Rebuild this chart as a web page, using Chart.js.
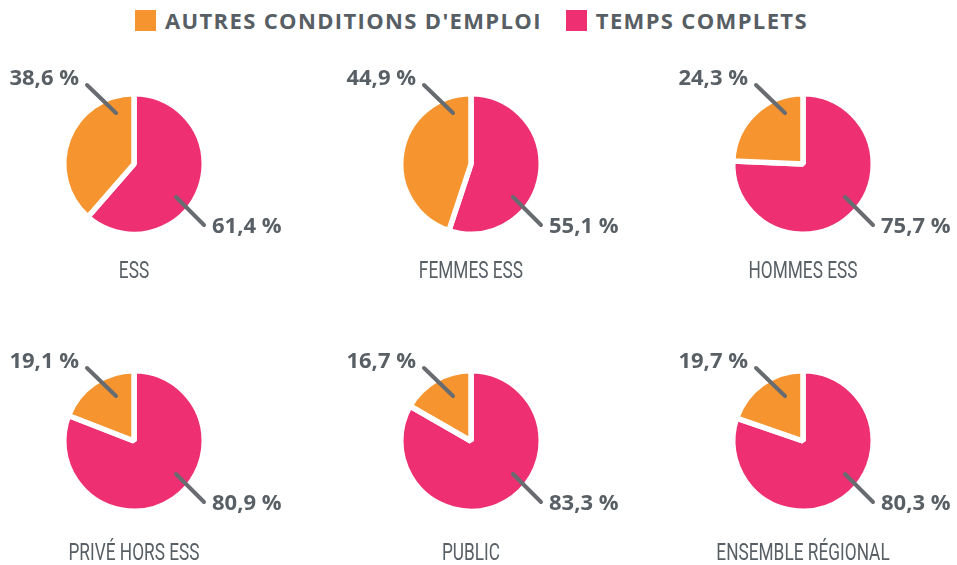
<!DOCTYPE html>
<html lang="fr">
<head>
<meta charset="utf-8">
<title>Temps complets</title>
<script src="https://cdn.jsdelivr.net/npm/chart.js@4.4.1/dist/chart.umd.min.js"></script>
<style>
  html, body { margin: 0; padding: 0; background: #fff; }
  body { position: relative; width: 957px; height: 565px; overflow: hidden; }
  #legende { position: absolute; left: 135px; top: 5px; display: flex; align-items: center; height: 30px;
    font-family: 'Open Sans', sans-serif; font-weight: 700; font-size: 22px; letter-spacing: 1.35px; color: #575e64; }
  #legende .item { display: flex; align-items: center; margin-right: 24px; white-space: nowrap; }
  #legende .carre { width: 21px; height: 21px; margin-right: 9px; }
  .bloc { position: absolute; width: 310px; height: 250px; }
</style>
</head>
<body>
<div id="legende"></div>

<script>
// données
const categories = ['ESS', 'FEMMES ESS', 'HOMMES ESS', 'PRIVÉ HORS ESS', 'PUBLIC', 'ENSEMBLE RÉGIONAL'];
const series = ["AUTRES CONDITIONS D'EMPLOI", 'TEMPS COMPLETS'];
const autresConditions = [38.6, 44.9, 24.3, 19.1, 16.7, 19.7];
const tempsComplets = [61.4, 55.1, 75.7, 80.9, 83.3, 80.3];

// couleurs
const orange = '#f6952f';
const rose = '#ee3072';
const grisTexte = '#585f65';
const grisTrait = '#686c70';

// mise en page (centre des camemberts)
const centresX = [134, 471, 803];
const centresY = [164, 441];
const decalTitre = [114, 119];
const decalOrange = [-79, -73];
const bordure = 5.5;

function formater(v) {
  return v.toFixed(1).replace('.', ',') + ' %';
}

// légende HTML
const legende = document.getElementById('legende');
[orange, rose].forEach((c, i) => {
  const item = document.createElement('div');
  item.className = 'item';
  const carre = document.createElement('span');
  carre.className = 'carre';
  carre.style.background = c;
  item.appendChild(carre);
  item.appendChild(document.createTextNode(series[i]));
  legende.appendChild(item);
});

// étiquettes et titres dessinés sur le canvas
const etiquettesPlugin = {
  id: 'etiquettes',
  afterDatasetsDraw(chart) {
    const ctx = chart.ctx;
    const arc = chart.getDatasetMeta(0).data[0];
    const cx = arc.x, cy = arc.y;
    const rang = chart.options.plugins.etiquettes.rang;
    const valeurs = chart.data.datasets[0].data;

    ctx.save();
    ctx.strokeStyle = grisTrait;
    ctx.lineWidth = 4;
    ctx.lineCap = 'round';
    const dy = decalOrange[rang];
    ctx.beginPath();
    ctx.moveTo(cx - 47, cy + dy);
    ctx.lineTo(cx - 18, cy + dy + 28);
    ctx.moveTo(cx + 42, cy + 33);
    ctx.lineTo(cx + 70, cy + 61);
    ctx.stroke();

    ctx.fillStyle = grisTexte;
    ctx.font = "700 22px 'Open Sans'";
    ctx.textBaseline = 'alphabetic';
    ctx.textAlign = 'right';
    ctx.fillText(formater(valeurs[1]), cx - 55, cy + dy);
    ctx.textAlign = 'left';
    ctx.fillText(formater(valeurs[0]), cx + 78, cy + 69);

    // titre en police étroite
    ctx.font = "400 24px Roboto";
    ctx.textAlign = 'center';
    ctx.translate(cx, cy + decalTitre[rang]);
    ctx.scale(0.72, 1);
    ctx.fillText(chart.options.plugins.etiquettes.titre, 0, 0);
    ctx.restore();
  }
};

categories.forEach((cat, i) => {
  const col = i % 3, rang = Math.floor(i / 3);
  const bloc = document.createElement('div');
  bloc.className = 'bloc';
  bloc.style.left = (centresX[col] - 155) + 'px';
  bloc.style.top = (centresY[rang] - 125) + 'px';
  const canvas = document.createElement('canvas');
  bloc.appendChild(canvas);
  document.body.appendChild(bloc);

  new Chart(canvas, {
    type: 'pie',
    data: {
      labels: [series[1], series[0]],
      datasets: [{
        data: [tempsComplets[i], autresConditions[i]],
        backgroundColor: [rose, orange],
        borderColor: '#ffffff',
        borderWidth: bordure
      }]
    },
    options: {
      responsive: true,
      maintainAspectRatio: false,
      animation: false,
      events: [],
      radius: 67.5 + bordure / 2,
      layout: { padding: 0 },
      plugins: {
        legend: { display: false },
        tooltip: { enabled: false },
        etiquettes: { titre: cat, rang: rang }
      }
    },
    plugins: [etiquettesPlugin]
  });
});
</script>
</body>
</html>
